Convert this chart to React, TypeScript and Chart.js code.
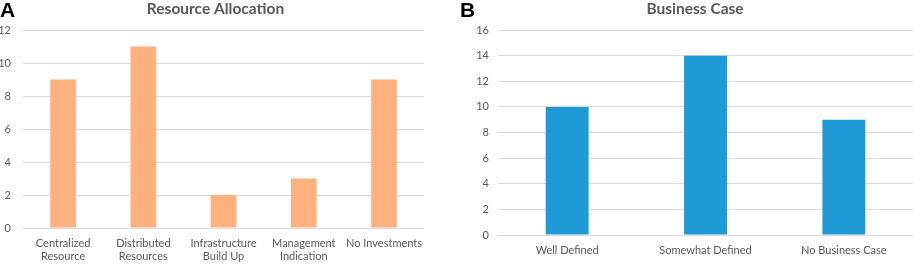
import React, { useEffect, useRef } from "react";
import { Chart, registerables } from "chart.js";

Chart.register(...registerables);

const categoriesA: (string | string[])[] = [
  ["Centralized", "Resource"],
  ["Distributed", "Resources"],
  ["Infrastructure", "Build Up"],
  ["Management", "Indication"],
  "No Investments",
];
const valuesA = [9, 11, 2, 3, 9];

const categoriesB = ["Well Defined", "Somewhat Defined", "No Business Case"];
const valuesB = [10, 14, 9];

const titleA = "Resource Allocation";
const titleB = "Business Case";

const FONT = "Lato, 'Open Sans', sans-serif";
const GREY = "#595959";
const GRID = "#d9d9d9";

type Cfg = {
  labels: (string | string[])[];
  values: number[];
  color: string;
  title: string;
  max: number;
  barPct: number;
  yWidth: number;
  yPad: number;
  xHeight: number;
};

function BarChart(props: Cfg & { width: number; height: number; left: number }) {
  const ref = useRef<HTMLCanvasElement>(null);
  useEffect(() => {
    if (!ref.current) return;
    const chart = new Chart(ref.current, {
      type: "bar",
      data: {
        labels: props.labels,
        datasets: [
          {
            data: props.values,
            backgroundColor: props.color,
            barPercentage: props.barPct,
            categoryPercentage: 1,
          },
        ],
      },
      options: {
        responsive: false,
        animation: false,
        layout: { padding: 0 },
        plugins: {
          legend: { display: false },
          tooltip: { enabled: false },
          title: {
            display: true,
            text: props.title,
            color: GREY,
            font: { family: FONT, size: 15.5, weight: "bold" },
            padding: { top: 0, bottom: 11.5 },
          },
        },
        scales: {
          x: {
            grid: { display: false, drawTicks: false },
            border: { display: false },
            ticks: {
              color: GREY,
              font: { family: FONT, size: 11 },
              padding: 9,
              maxRotation: 0,
              autoSkip: false,
            },
            afterFit: (s: any) => {
              s.height = props.xHeight;
            },
          },
          y: {
            min: 0,
            max: props.max,
            grid: { color: GRID, drawTicks: false },
            border: { display: false },
            ticks: {
              stepSize: 2,
              color: GREY,
              font: { family: FONT, size: 11 },
              padding: props.yPad,
            },
            afterFit: (s: any) => {
              s.width = props.yWidth;
            },
          },
        },
      },
    });
    return () => chart.destroy();
  }, []);
  return (
    <canvas
      ref={ref}
      width={props.width}
      height={props.height}
      style={{ position: "absolute", left: props.left, top: 0, width: props.width, height: props.height }}
    />
  );
}

export default function App() {
  const letter: React.CSSProperties = {
    position: "absolute",
    top: 0,
    fontFamily: "'Liberation Sans', Arial, sans-serif",
    fontWeight: "bold",
    fontSize: 21,
    lineHeight: "20px",
    color: "#000",
  };
  return (
    <div style={{ position: "absolute", left: 0, top: 0, width: 913, height: 264, background: "#fff" }}>
      <BarChart
        left={0}
        width={431}
        height={264}
        labels={categoriesA}
        values={valuesA}
        color="#FFB07F"
        title={titleA}
        max={12}
        barPct={0.32}
        yWidth={23}
        yPad={12}
        xHeight={36}
      />
      <BarChart
        left={477}
        width={436}
        height={264}
        labels={categoriesB}
        values={valuesB}
        color="#1E9BD7"
        title={titleB}
        max={16}
        barPct={0.31}
        yWidth={21}
        yPad={9}
        xHeight={29}
      />
      <div style={{ ...letter, left: 0 }}>A</div>
      <div style={{ ...letter, left: 460 }}>B</div>
    </div>
  );
}
